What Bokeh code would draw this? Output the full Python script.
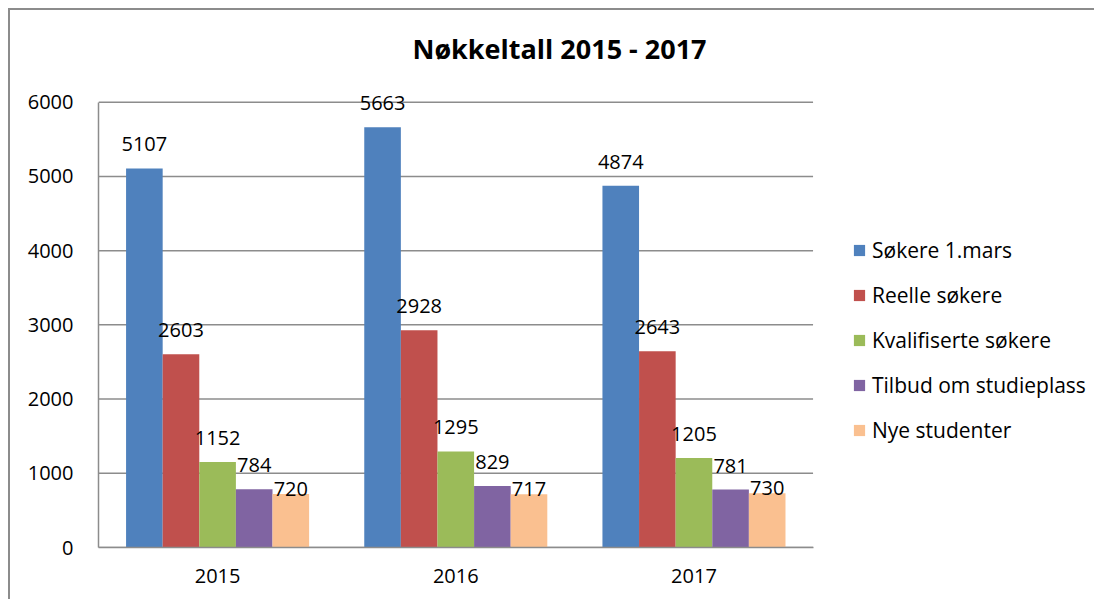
import numpy as np
from bokeh.plotting import figure
from bokeh.models import (Range1d, FixedTicker, Legend, LegendItem,
                          ColumnDataSource, Label)
from bokeh.transform import dodge
from bokeh.core.properties import value
from bokeh.embed import file_html
from bokeh.resources import INLINE

years = ["2015", "2016", "2017"]
series = ["Søkere 1.mars", "Reelle søkere", "Kvalifiserte søkere",
          "Tilbud om studieplass", "Nye studenter"]
sokere_1mars = [5107, 5663, 4874]
reelle_sokere = [2603, 2928, 2643]
kvalifiserte_sokere = [1152, 1295, 1205]
tilbud_studieplass = [784, 829, 781]
nye_studenter = [720, 717, 730]
y_ticks = [0, 1000, 2000, 3000, 4000, 5000, 6000]
title_text = "Nøkkeltall 2015 - 2017"

values = [sokere_1mars, reelle_sokere, kvalifiserte_sokere, tilbud_studieplass, nye_studenter]
colors = ["#4F81BD", "#C0504D", "#9BBB59", "#8064A2", "#FAC090"]
label_offsets = [-24, -24, -24, -24, -5]

FONT = "Open Sans"
FS = "20px"
GRID = "#8c8c8c"

n = len(years)
xc = list(np.arange(n) + 0.5)          # category centres on a numeric axis
y_top = max(y_ticks)

p = figure(width=1086, height=591, x_range=Range1d(0, 4.19), y_range=Range1d(0, 7236),
           output_backend="svg", toolbar_location=None, title_location=None,
           min_border_left=88, min_border_right=0, min_border_top=0, min_border_bottom=54)
p.margin = (8, 0, 0, 8)
p.styles = {"border-left": "2px solid #8c8c8c", "border-top": "2px solid #8c8c8c"}
p.outline_line_color = None
p.background_fill_color = "white"
p.border_fill_color = "white"
p.xgrid.grid_line_color = None
p.ygrid.grid_line_color = None

# horizontal gridlines limited to the plot area (0 .. number of categories)
p.segment(x0=[0] * len(y_ticks), x1=[n] * len(y_ticks), y0=y_ticks, y1=y_ticks,
          line_color=GRID, line_width=1.5)

src = ColumnDataSource(dict(xc=xc, **{f"s{i}": v for i, v in enumerate(values)},
                            **{f"t{i}": [str(x) for x in v] for i, v in enumerate(values)}))

bw = 0.1537
items = []
for i, (name, col) in enumerate(zip(series, colors)):
    off = (i - 2) * bw
    r = p.vbar(x=dodge("xc", off), top=f"s{i}", width=bw, source=src,
               fill_color=col, line_color=None)
    p.text(x=dodge("xc", off), y=f"s{i}", text=f"t{i}", source=src,
           text_font=value(FONT), text_font_size=FS, text_color="black",
           text_align="center", text_baseline="middle", y_offset=label_offsets[i])
    items.append(LegendItem(label=name, renderers=[r]))

legend = Legend(items=items, location=(754, 103), orientation="vertical",
                glyph_width=14, glyph_height=14, label_height=28, spacing=17,
                label_standoff=6, padding=10, margin=0,
                label_text_font=FONT, label_text_font_size="21px", label_text_color="black",
                border_line_color=None, background_fill_alpha=0)
p.add_layout(legend, "center")

title = Label(x=461, y=499, x_units="screen", y_units="screen", text=title_text,
              text_font=FONT, text_font_size="27px", text_font_style="bold",
              text_align="center", text_baseline="middle", text_color="black")
p.add_layout(title)

p.yaxis.ticker = FixedTicker(ticks=y_ticks)
p.yaxis.bounds = (0, y_top)
p.yaxis.major_tick_line_color = None
p.yaxis.minor_tick_line_color = None
p.yaxis.axis_line_color = GRID
p.yaxis.axis_line_width = 1.5
p.yaxis.major_label_standoff = 19
p.yaxis.major_label_text_font = FONT
p.yaxis.major_label_text_font_size = FS
p.yaxis.major_label_text_color = "black"

p.xaxis.ticker = FixedTicker(ticks=xc)
p.xaxis.major_label_overrides = {float(x): y for x, y in zip(xc, years)}
p.xaxis.bounds = (0, n)
p.xaxis.major_tick_line_color = None
p.xaxis.minor_tick_line_color = None
p.xaxis.axis_line_color = GRID
p.xaxis.axis_line_width = 1.5
p.xaxis.major_label_standoff = 15
p.xaxis.major_label_text_font = FONT
p.xaxis.major_label_text_font_size = FS
p.xaxis.major_label_text_color = "black"

open("out.html", "w").write(file_html(p, INLINE))
